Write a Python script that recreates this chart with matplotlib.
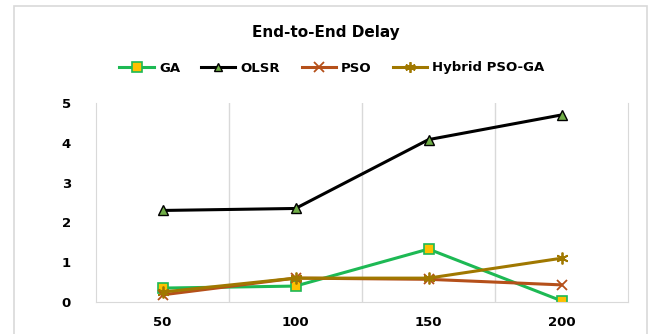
import matplotlib.pyplot as plt
from matplotlib.patches import Rectangle

# Data
nodes = ['50', '100', '150', '200']
ga = [0.35, 0.40, 1.33, 0.03]
olsr = [2.30, 2.35, 4.08, 4.70]
pso = [0.18, 0.60, 0.57, 0.43]
hybrid = [0.25, 0.60, 0.60, 1.10]

fig = plt.figure(figsize=(6.51, 3.34), dpi=100)
W, H = 651, 334
ax = fig.add_axes([96 / W, 1 - 302 / H, (628 - 96) / W, (302 - 103) / H])

x = range(len(nodes))
ax.plot(x, ga, '-s', color='#1DB954', lw=2.2, ms=7.5, mfc='#FFC000', mec='#1DB954', mew=1.2, label='GA')
ax.plot(x, olsr, '-^', color='black', lw=2.2, ms=7, mfc='#70AD47', mec='black', mew=1, label='OLSR')
ax.plot(x, pso, '-x', color='#B5501A', lw=2.2, ms=7.5, mew=1.3, label='PSO')
ax.plot(x, hybrid, '-', marker=(6, 2, 0), color='#A07800', lw=2.2, ms=8.5, mew=1.3, label='Hybrid PSO-GA')

ax.set_xlim(-0.5, 3.5)
ax.set_ylim(0, 5)
ax.set_xticks(list(x))
ax.set_xticklabels(nodes)
ax.set_yticks(range(6))
ax.tick_params(length=0, labelsize=9.5, pad=10)
for lbl in ax.get_xticklabels() + ax.get_yticklabels():
    lbl.set_fontweight('bold')
ax.tick_params(axis='y', pad=18)
for lbl in ax.get_yticklabels():
    lbl.set_horizontalalignment('right')

# separators between categories
for b in [0.5, 1.5, 2.5]:
    ax.axvline(b, color='#D9D9D9', lw=1, zorder=0)
for s in ['left', 'right', 'bottom']:
    ax.spines[s].set_color('#D9D9D9')
ax.spines['top'].set_visible(False)

fig.text(0.5, 1 - 33 / H, 'End-to-End Delay', ha='center', va='center',
         fontsize=11, fontweight='bold')
fig.legend(loc='center', bbox_to_anchor=(0.51, 1 - 68 / H), ncol=4, frameon=False,
           prop={'weight': 'bold', 'size': 9.5}, handlelength=2.6, columnspacing=1.6,
           handletextpad=0.4, markerscale=0.9)

fig.patches.append(Rectangle((14 / W, -0.05), (647 - 14) / W, 1.05 - 6 / H,
                             transform=fig.transFigure, fill=False,
                             edgecolor='#D9D9D9', lw=1.2))

plt.savefig('out.png', dpi=100)
